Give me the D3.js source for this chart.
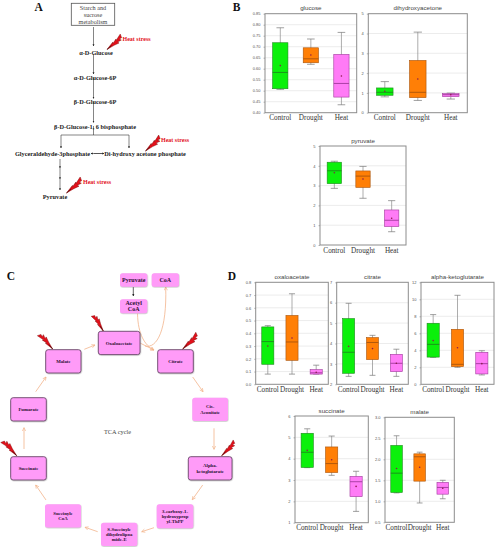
<!DOCTYPE html>
<html>
<head>
<meta charset="utf-8">
<script src="https://cdnjs.cloudflare.com/ajax/libs/d3/7.8.5/d3.min.js"></script>
<style>
body { margin: 0; background: #fff; }
svg { display: block; }
</style>
</head>
<body>
<div id="chart"></div>
<script>
// each row is one group: low whisker, q1, median, q3, high whisker, mean
var groups = ["Control", "Drought", "Heat"];
var groupColors = ["#0bf00b", "#ff7f06", "#ff7bf6"];
var groupEdges = ["#1c8a1c", "#a8540c", "#a03a9c"];

var glucose = [[0.506, 0.509, 0.583, 0.718, 0.786, 0.614], [0.62, 0.627, 0.645, 0.695, 0.735, 0.662], [0.436, 0.471, 0.533, 0.665, 0.765, 0.567]];
var dihydroxyacetone = [[0.8, 0.88, 1.03, 1.25, 1.57, 1.08], [0.62, 0.76, 1.03, 2.64, 4.07, 1.7], [0.69, 0.81, 0.91, 0.96, 0.99, 0.91]];
var pyruvate = [[2.86, 3.1, 3.75, 4.18, 4.23, 3.65], [2.36, 2.91, 3.48, 3.74, 3.97, 3.33], [0.67, 0.93, 1.25, 1.77, 2.24, 1.35]];
var oxaloacetate = [[0.08, 0.157, 0.335, 0.45, 0.46, 0.30], [0.08, 0.188, 0.332, 0.54, 0.71, 0.363], [0.08, 0.08, 0.09, 0.115, 0.15, 0.095]];
var citrate = [[2.39, 2.54, 3.57, 5.22, 5.97, 3.86], [2.44, 3.21, 4.05, 4.29, 4.40, 3.75], [2.39, 2.62, 3.03, 3.47, 3.72, 3.03]];
var alphaKeto = [[3.17, 3.2, 4.7, 7.18, 8.2, 5.14], [2.0, 2.08, 2.35, 6.47, 10.47, 4.3], [1.1, 1.22, 2.43, 3.76, 3.95, 2.43]];
var succinate = [[3.58, 3.59, 4.3, 5.19, 5.4, 4.39], [3.22, 3.35, 3.77, 4.55, 5.06, 3.95], [1.53, 2.22, 2.92, 3.17, 3.41, 2.7]];
var malate = [[1.2, 1.21, 1.67, 2.33, 2.56, 1.78], [0.96, 1.48, 2.06, 2.13, 2.17, 1.81], [1.06, 1.17, 1.33, 1.45, 1.5, 1.31]];

var panels = [
	{title: "glucose", rows: glucose, domain: [0.40, 0.85], step: 0.05, fmt: ".2f", x0: 265, x1: 356.7, y0: 13.7, y1: 112.7},
	{title: "dihydroxyacetone", rows: dihydroxyacetone, domain: [0, 5], step: 1, fmt: "d", x0: 368.3, x1: 467.3, y0: 13.7, y1: 112.7},
	{title: "pyruvate", rows: pyruvate, domain: [0, 5], step: 1, fmt: "d", x0: 320, x1: 406, y0: 146, y1: 245},
	{title: "oxaloacetate", rows: oxaloacetate, domain: [0, 0.8], step: 0.1, fmt: ".1f", x0: 255.7, x1: 328.3, y0: 282.3, y1: 384.3},
	{title: "citrate", rows: citrate, domain: [2, 7], step: 1, fmt: "d", x0: 336.7, x1: 408.3, y0: 282.3, y1: 384.3},
	{title: "alpha-ketoglutarate", rows: alphaKeto, domain: [0, 12], step: 2, fmt: "d", x0: 421, x1: 494, y0: 282.3, y1: 384.3},
	{title: "succinate", rows: succinate, domain: [1, 6], step: 1, fmt: "d", x0: 295, x1: 368.3, y0: 416, y1: 522.7},
	{title: "malate", rows: malate, domain: [0.5, 3.0], step: 0.5, fmt: ".1f", x0: 385, x1: 454.3, y0: 417.3, y1: 522.3}
];

var SERIF = "'Liberation Serif', 'DejaVu Serif', serif";
var SANS = "'Liberation Sans', Arial, sans-serif";

var svg = d3.select("#chart").append("svg")
	.attr("width", 498)
	.attr("height", 550);

var defs = svg.append("defs");
defs.append("marker")
	.attr("id", "arrowBlack")
	.attr("viewBox", "0 0 6 6")
	.attr("refX", 5)
	.attr("refY", 3)
	.attr("markerWidth", 3.6)
	.attr("markerHeight", 3.6)
	.attr("orient", "auto")
	.append("path")
		.attr("d", "M0,0.4L6,3L0,5.6Z")
		.attr("fill", "#222");

defs.append("marker")
	.attr("id", "arrowOrange")
	.attr("viewBox", "0 0 8 8")
	.attr("refX", 7)
	.attr("refY", 4)
	.attr("markerWidth", 5.5)
	.attr("markerHeight", 5.5)
	.attr("orient", "auto")
	.append("path")
		.attr("d", "M1,1L7,4L1,7")
		.attr("fill", "none")
		.attr("stroke", "#f3b48b")
		.attr("stroke-width", 1.2);

var blur = defs.append("filter").attr("id", "soft")
	.attr("x", "-20%").attr("y", "-20%").attr("width", "140%").attr("height", "140%");
blur.append("feDropShadow")
	.attr("dx", 0.4).attr("dy", 0.6).attr("stdDeviation", 0.6)
	.attr("flood-color", "#888").attr("flood-opacity", 0.6);

// ---- panel letters
var letters = [["A", 38.7, 11], ["B", 236.7, 11], ["C", 11, 279.5], ["D", 232, 279.5]];
svg.selectAll(".panelLetter")
	.data(letters)
	.enter()
	.append("text")
		.attr("class", "panelLetter")
		.attr("x", d => d[1])
		.attr("y", d => d[2])
		.attr("text-anchor", "middle")
		.attr("font-family", SERIF)
		.attr("font-weight", "bold")
		.attr("font-size", "11.5px")
		.attr("fill", "#111")
		.text(d => d[0]);

// ---- box plots
panels.forEach(function (p) {
	var x = d3.scaleBand().domain(groups).range([p.x0, p.x1]);
	var y = d3.scaleLinear().domain(p.domain).range([p.y1, p.y0]);
	var tickVals = d3.range(p.domain[0], p.domain[1] + p.step / 2, p.step);
	var g = svg.append("g").attr("class", "boxPanel");

	g.append("g")
		.selectAll("line")
		.data(tickVals.slice(1, -1))
		.enter()
		.append("line")
			.attr("x1", p.x0)
			.attr("x2", p.x1)
			.attr("y1", d => y(d))
			.attr("y2", d => y(d))
			.attr("stroke", "#e4e4e4")
			.attr("stroke-width", 0.7);

	g.append("rect")
		.attr("x", p.x0)
		.attr("y", p.y0)
		.attr("width", p.x1 - p.x0)
		.attr("height", p.y1 - p.y0)
		.attr("fill", "none")
		.attr("stroke", "#8c8c8c")
		.attr("stroke-width", 1);

	var yAxis = d3.axisLeft(y).tickValues(tickVals).tickFormat(d3.format(p.fmt)).tickSize(1.5).tickPadding(3);
	var yG = g.append("g").attr("transform", "translate(" + p.x0 + ",0)").call(yAxis);
	yG.select(".domain").remove();
	yG.selectAll("line").attr("stroke", "#777").attr("stroke-width", 0.5);
	yG.selectAll("text")
		.attr("font-family", SANS)
		.attr("font-size", "4px")
		.attr("fill", "#555");

	var xAxis = d3.axisBottom(x).tickSize(0).tickPadding(2.5);
	var xG = g.append("g").attr("transform", "translate(0," + p.y1 + ")").call(xAxis);
	xG.select(".domain").remove();
	xG.selectAll("text")
		.attr("font-family", SERIF)
		.attr("font-size", "7.2px")
		.attr("fill", "#333");

	g.append("text")
		.attr("x", (p.x0 + p.x1) / 2)
		.attr("y", p.y0 - 3.5)
		.attr("text-anchor", "middle")
		.attr("font-family", SANS)
		.attr("font-size", "6.2px")
		.attr("fill", "#444")
		.text(p.title);

	var box = g.selectAll(".box")
		.data(p.rows)
		.enter()
		.append("g")
			.attr("class", "box");
	var w = x.bandwidth() * 0.5;
	var cx = (d, i) => x(groups[i]) + x.bandwidth() / 2;

	box.append("line")
		.attr("x1", cx).attr("x2", cx)
		.attr("y1", d => y(d[0]))
		.attr("y2", d => y(d[4]))
		.attr("stroke", "#8a8a8a")
		.attr("stroke-width", 0.7);
	[0, 4].forEach(function (k) {
		box.append("line")
			.attr("x1", (d, i) => cx(d, i) - w / 4)
			.attr("x2", (d, i) => cx(d, i) + w / 4)
			.attr("y1", d => y(d[k]))
			.attr("y2", d => y(d[k]))
			.attr("stroke", "#777")
			.attr("stroke-width", 0.7);
	});
	box.append("rect")
		.attr("x", (d, i) => cx(d, i) - w / 2)
		.attr("y", d => y(d[3]))
		.attr("width", w)
		.attr("height", d => y(d[1]) - y(d[3]))
		.attr("fill", (d, i) => groupColors[i])
		.attr("stroke", (d, i) => groupEdges[i])
		.attr("stroke-width", 0.6);
	box.append("line")
		.attr("x1", (d, i) => cx(d, i) - w / 2)
		.attr("x2", (d, i) => cx(d, i) + w / 2)
		.attr("y1", d => y(d[2]))
		.attr("y2", d => y(d[2]))
		.attr("stroke", (d, i) => groupEdges[i])
		.attr("stroke-width", 0.9);
	box.append("circle")
		.attr("cx", cx)
		.attr("cy", d => y(d[5]))
		.attr("r", 0.8)
		.attr("fill", "#8c1a4a");
});

// ---- lightning bolts, drawn in a unit frame then moved from tip to tail
var boltShape = "M0,0L46,-8L40,-2L68,-9L62,-3L100,-13L93,5L80,2L84,13L64,7L66,16L40,8Z";
function bolt(tx, ty, ex, ey) {
	var dx = ex - tx, dy = ey - ty;
	var len = Math.sqrt(dx * dx + dy * dy);
	var ang = Math.atan2(dy, dx) * 180 / Math.PI;
	svg.append("path")
		.attr("d", boltShape)
		.attr("transform", "translate(" + tx + "," + ty + ") rotate(" + ang + ") scale(" + (len / 100) + ")")
		.attr("fill", "#e3101a")
		.attr("stroke", "#7a0a0a")
		.attr("stroke-width", 2);
	svg.append("line")
		.attr("x1", tx).attr("y1", ty)
		.attr("x2", tx + dx * 0.3).attr("y2", ty + dy * 0.3)
		.attr("stroke", "#3a0505")
		.attr("stroke-width", 0.7);
}

// ---- panel A pathway
var pathwayLabels = ["\u03b1-D-Glucose", "\u03b1-D-Glucose-6P", "\u03b2-D-Glucose-6P", "\u03b2-D-Glucose-1, 6 bisphosphate",
	"Glyceraldehyde-3phosphate", "Di-hydroxy acetone phosphate", "Pyruvate"];
var pathwayPos = [[96, 54.5], [95, 79.5], [95, 103.5], [95, 128.5], [52.5, 156], [145, 156], [55, 198.5]];
var startLines = ["Starch and", "sucrose", "metabolism"];

svg.append("rect")
	.attr("x", 71.3).attr("y", 3.3)
	.attr("width", 43.4).attr("height", 22)
	.attr("fill", "#fff")
	.attr("stroke", "#555")
	.attr("stroke-width", 0.8);
startLines.forEach(function (s, i) {
	svg.append("text")
		.attr("x", 93).attr("y", 9.8 + i * 7.2)
		.attr("text-anchor", "middle")
		.attr("font-family", SERIF)
		.attr("font-size", "6.2px")
		.attr("fill", "#444")
		.text(s);
});

var pathwayArrows = [
	[93.5, 27, 93.5, 46], [93.5, 54, 93.5, 74], [93.5, 78, 93.5, 98.5], [93.5, 102, 93.5, 122.5],
	[61, 135, 61, 148], [129, 135, 129, 148],
	[60, 159, 60, 168], [60, 168, 60, 179], [60, 179, 60, 190],
	[94, 153.5, 104, 153.5], [104, 153.5, 91, 153.5]
];
svg.selectAll(".pathArrow")
	.data(pathwayArrows)
	.enter()
	.append("line")
		.attr("class", "pathArrow")
		.attr("x1", d => d[0]).attr("y1", d => d[1])
		.attr("x2", d => d[2]).attr("y2", d => d[3])
		.attr("stroke", "#333")
		.attr("stroke-width", 0.6)
		.attr("marker-end", "url(#arrowBlack)");
svg.append("path")
	.attr("d", "M93.5,126V135M61,135H129")
	.attr("fill", "none")
	.attr("stroke", "#333")
	.attr("stroke-width", 0.6);

svg.selectAll(".pathLabel")
	.data(pathwayLabels)
	.enter()
	.append("text")
		.attr("class", "pathLabel")
		.attr("x", (d, i) => pathwayPos[i][0])
		.attr("y", (d, i) => pathwayPos[i][1])
		.attr("text-anchor", "middle")
		.attr("font-family", SERIF)
		.attr("font-weight", "bold")
		.attr("font-size", "6.3px")
		.attr("fill", "#222")
		.text(d => d);

var stressPos = [[122.5, 40.5], [161, 142], [83, 183.5]];
svg.selectAll(".stress")
	.data(stressPos)
	.enter()
	.append("text")
		.attr("class", "stress")
		.attr("x", d => d[0])
		.attr("y", d => d[1])
		.attr("font-family", SERIF)
		.attr("font-weight", "bold")
		.attr("font-size", "6px")
		.attr("fill", "#e3101a")
		.text("Heat stress");
bolt(107, 49.5, 122, 36);
bolt(145.5, 151, 160.5, 137);
bolt(66.5, 193, 82, 179);

// ---- panel C TCA cycle
var orangeArrows = [
	[84.3, 349.3, 95, 345], [35.7, 391.7, 46, 377], [24, 449, 24, 427.7], [46, 500, 35.7, 485],
	[97.7, 531.7, 85, 527.3], [154, 527.7, 141.7, 531.7], [202.7, 485, 192.3, 499.7],
	[214, 428.3, 214, 449.3], [192.7, 377, 203, 391.7], [140, 343, 154, 350]
];
svg.selectAll(".cycleArrow")
	.data(orangeArrows)
	.enter()
	.append("line")
		.attr("class", "cycleArrow")
		.attr("x1", d => d[0]).attr("y1", d => d[1])
		.attr("x2", d => d[2]).attr("y2", d => d[3])
		.attr("stroke", "#f3b48b")
		.attr("stroke-width", 0.8)
		.attr("marker-end", "url(#arrowOrange)");

svg.append("path")
	.attr("d", "M137.5,313.5C138,335 145,345 153.5,350")
	.attr("fill", "none")
	.attr("stroke", "#f3b48b")
	.attr("stroke-width", 0.8)
	.attr("marker-end", "url(#arrowOrange)");
svg.append("path")
	.attr("d", "M145,346C157,349 167,330 165.7,287")
	.attr("fill", "none")
	.attr("stroke", "#f3b48b")
	.attr("stroke-width", 0.8)
	.attr("marker-end", "url(#arrowOrange)");
svg.append("line")
	.attr("x1", 133.3).attr("y1", 287)
	.attr("x2", 133.3).attr("y2", 296)
	.attr("stroke", "#222")
	.attr("stroke-width", 0.7)
	.attr("marker-end", "url(#arrowBlack)");

var cycleNames = [["Malate"], ["Fumarate"], ["Succinate"], ["Succinyle", "CoA"], ["Oxaloacetate"], ["Citrate"], ["Cis-", "Aconitate"],
	["Alpha-", "ketoglutarate"], ["3-carboxy-1-", "hydroxyprop", "yl-ThPP"], ["S-Succinyle", "dihydrolipoa", "mide-E"],
	["Pyruvate"], ["CoA"], ["Acetyl", "CoA"]];
var cycleBoxes = [[45.7, 349.7, 35.3], [10.7, 397.7, 35.6], [10.7, 456.7, 35.6], [45, 504.3, 36], [98.3, 331.3, 41.7], [157.7, 349.7, 35.6],
	[192.3, 397.7, 35.7], [188.3, 456.7, 43.7], [156.7, 504.3, 36.6], [101, 522.7, 36.3], [120, 273.3, 27.3], [151.7, 273.3, 27.3], [120, 299.3, 27.3]];
var cycleHeights = [23.3, 23.3, 23.3, 23.3, 23.3, 23.3, 23.3, 23.3, 24, 23.3, 13.4, 13.4, 14];
var darkEdge = [true, true, true, false, true, true, false, true, false, false, false, false, false];

var node = svg.selectAll(".cycleNode")
	.data(cycleNames)
	.enter()
	.append("g")
		.attr("class", "cycleNode");
node.append("rect")
	.attr("x", (d, i) => cycleBoxes[i][0])
	.attr("y", (d, i) => cycleBoxes[i][1])
	.attr("width", (d, i) => cycleBoxes[i][2])
	.attr("height", (d, i) => cycleHeights[i])
	.attr("rx", 2.5)
	.attr("fill", "#ff9bf8")
	.attr("stroke", (d, i) => darkEdge[i] ? "#6e4a6e" : "none")
	.attr("stroke-width", 0.9)
	.attr("filter", "url(#soft)");
node.each(function (lines, i) {
	var cx = cycleBoxes[i][0] + cycleBoxes[i][2] / 2;
	var cy = cycleBoxes[i][1] + cycleHeights[i] / 2;
	var small = i > 9 ? 6 : 4.8;
	var lh = i > 9 ? 6.2 : 5.2;
	lines.forEach(function (s, k) {
		d3.select(this).append("text")
			.attr("x", cx)
			.attr("y", cy + (k - (lines.length - 1) / 2) * lh + small * 0.33)
			.attr("text-anchor", "middle")
			.attr("font-family", SERIF)
			.attr("font-weight", "bold")
			.attr("font-size", small + "px")
			.attr("fill", "#2a1030")
			.text(s);
	}, this);
});

svg.append("text")
	.attr("x", 117.5).attr("y", 433.8)
	.attr("text-anchor", "middle")
	.attr("font-family", SERIF)
	.attr("font-size", "6.3px")
	.attr("fill", "#444")
	.text("TCA cycle");

bolt(52.7, 349, 39.3, 334);
bolt(103.3, 331, 93.3, 315);
bolt(16.7, 455.7, 2.7, 440.7);
bolt(182.7, 349, 197.7, 334.3);
bolt(221.7, 455.7, 235, 441.7);
</script>
</body>
</html>
